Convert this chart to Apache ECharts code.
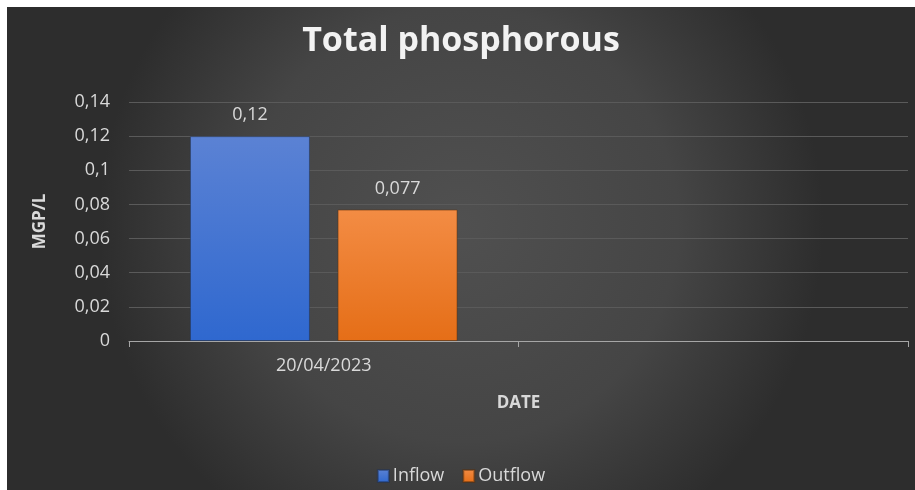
<!DOCTYPE html>
<html>
<head>
<meta charset="utf-8">
<script src="https://cdn.jsdelivr.net/npm/echarts@6/dist/echarts.min.js"></script>
<style>
  html, body { margin: 0; padding: 0; background: #fff; }
  #chart { position: absolute; left: 7px; top: 7px; width: 908px; height: 483px; }
</style>
</head>
<body>
<div id="chart"></div>
<script>
// data
const categories = ['20/04/2023', ''];
const inflow = [0.12, null];
const outflow = [0.077, null];

const comma = v => String(+Number(v).toFixed(4)).replace('.', ',');
const font = '"Open Sans", Lato, sans-serif';
const labelColor = '#d9d9d9';

const chart = echarts.init(document.getElementById('chart'));

chart.setOption({
  backgroundColor: {
    type: 'radial', x: 0.5, y: 0.45, r: 0.75,
    colorStops: [
      { offset: 0, color: '#505050' },
      { offset: 0.6, color: '#454545' },
      { offset: 1, color: '#2d2d2d' },
    ],
  },
  textStyle: { fontFamily: font },
  title: {
    text: 'Total phosphorous',
    left: 'center',
    top: 17,
    padding: [0, 0, 0, 10],
    textStyle: { color: '#f2f2f2', fontSize: 34, fontWeight: 'bold', fontFamily: font },
  },
  legend: {
    top: 455,
    left: 'center',
    itemWidth: 11,
    itemHeight: 12,
    itemGap: 18,
    icon: 'rect',
    padding: [5, 0, 5, 8],
    textStyle: { color: labelColor, fontSize: 18, padding: [0, 0, 0, -1] },
  },
  grid: { left: 122, right: 7, top: 95, bottom: 149 },
  xAxis: {
    type: 'category',
    data: categories,
    name: 'DATE',
    nameLocation: 'middle',
    nameGap: 54,
    nameTextStyle: { color: labelColor, fontSize: 17, fontWeight: 'bold' },
    axisLine: { lineStyle: { color: '#a6a6a6', width: 1 } },
    axisTick: { show: true, length: 6, lineStyle: { color: '#a6a6a6' } },
    axisLabel: { color: labelColor, fontSize: 18, margin: 16 },
    splitLine: { show: false },
  },
  yAxis: {
    type: 'value',
    min: 0,
    max: 0.14,
    interval: 0.02,
    name: 'MGP/L',
    nameLocation: 'middle',
    nameGap: 80,
    nameTextStyle: { color: labelColor, fontSize: 17, fontWeight: 'bold' },
    axisLine: { show: false },
    axisTick: { show: false },
    axisLabel: { color: labelColor, fontSize: 18, margin: 19, formatter: comma },
    splitLine: { lineStyle: { color: '#5a5a5a', width: 1 } },
  },
  series: [
    {
      name: 'Inflow',
      type: 'bar',
      data: inflow,
      barWidth: 120,
      barGap: '23%',
      itemStyle: {
        color: new echarts.graphic.LinearGradient(0, 0, 0, 1, [
          { offset: 0, color: '#5b82d4' },
          { offset: 1, color: '#2f68cf' },
        ]),
        borderColor: 'rgba(30,50,90,0.5)',
        borderWidth: 1,
      },
      label: {
        show: true, position: 'top', distance: 12,
        color: labelColor, fontSize: 18, formatter: p => comma(p.value),
      },
    },
    {
      name: 'Outflow',
      type: 'bar',
      data: outflow,
      barWidth: 120,
      itemStyle: {
        color: new echarts.graphic.LinearGradient(0, 0, 0, 1, [
          { offset: 0, color: '#f38c44' },
          { offset: 1, color: '#e56e17' },
        ]),
        borderColor: 'rgba(90,45,10,0.5)',
        borderWidth: 1,
      },
      label: {
        show: true, position: 'top', distance: 12,
        color: labelColor, fontSize: 18, formatter: p => comma(p.value),
      },
    },
  ],
});
</script>
</body>
</html>
